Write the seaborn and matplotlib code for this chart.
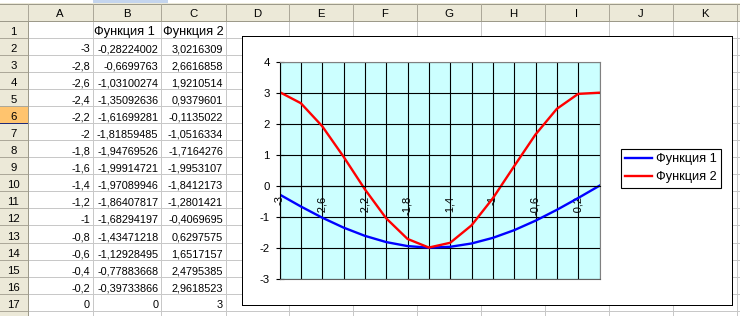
import matplotlib
matplotlib.use("Agg")
import matplotlib.pyplot as plt
import seaborn as sns
import pandas as pd
from matplotlib.patches import Rectangle

# ---------------- data ----------------
x_vals = [-3, -2.8, -2.6, -2.4, -2.2, -2, -1.8, -1.6, -1.4, -1.2, -1, -0.8, -0.6, -0.4, -0.2, 0]
f1_vals = [-0.28224002, -0.6699763, -1.03100274, -1.35092636, -1.61699281, -1.81859485,
           -1.94769526, -1.99914721, -1.97089946, -1.86407817, -1.68294197, -1.43471218,
           -1.12928495, -0.77883668, -0.39733866, 0]
f2_vals = [3.0216309, 2.6616858, 1.9210514, 0.9379601, -0.1135022, -1.0516334, -1.7164276,
           -1.9953107, -1.8412173, -1.2801421, -0.4069695, 0.6297575, 1.6517157, 2.4795385,
           2.9618523, 3]
series_names = ["Функция 1", "Функция 2"]
col_letters = ["A", "B", "C", "D", "E", "F", "G", "H", "I", "J", "K"]
y_ticks = [-3, -2, -1, 0, 1, 2, 3, 4]

def fmt(v):
    return "{:.10g}".format(v).replace(".", ",")

plt.rcParams["font.family"] = ["Liberation Sans", "DejaVu Sans"]

W, H = 740, 316
fig = plt.figure(figsize=(W / 100, H / 100), dpi=100)

# ---------------- spreadsheet background ----------------
bg = fig.add_axes([0, 0, 1, 1])
bg.set_xlim(0, W)
bg.set_ylim(H, 0)
bg.axis("off")

col_edges = [0, 27.5, 92.5, 161, 225.5, 288.5, 352.5, 416.5, 481, 544.5, 608.5, 672.5, 737]
row_top = 20.5
row_h = 17.08
n_rows = 18
row_edges = [row_top + i * row_h for i in range(n_rows + 1)]

header_bg = "#ECE9D8"
sep_col = "#ACA899"
grid_col = "#C8C8C8"
PX = 0.72

def hline(x0, x1, y, c, z=1):
    bg.plot([x0, x1], [y, y], color=c, lw=PX, antialiased=False, zorder=z, solid_capstyle="butt")

def vline(x, y0, y1, c, z=1):
    bg.plot([x, x], [y0, y1], color=c, lw=PX, antialiased=False, zorder=z, solid_capstyle="butt")

bg.add_patch(Rectangle((0, 0), W, H, facecolor="white", edgecolor="none", zorder=0))
bg.add_patch(Rectangle((93, 0), 75, 3, facecolor="#C4D5EE", edgecolor="none", zorder=0))
for xe in col_edges[1:]:
    vline(xe, row_top, H, grid_col)
vline(W - 0.5, row_top, H, grid_col)
for ye in row_edges:
    hline(27, W, ye, grid_col)
bg.add_patch(Rectangle((0, 3), W, row_top - 3, facecolor=header_bg, edgecolor="none", zorder=2))
bg.add_patch(Rectangle((0, row_top), 27.5, H - row_top, facecolor=header_bg, edgecolor="none", zorder=2))
bg.add_patch(Rectangle((0, row_edges[5]), 27.5, row_h, facecolor="#FFC46E", edgecolor="none", zorder=2))
hline(0, W, 3.5, "#9D9A8A", 3)
for xe in col_edges[1:]:
    vline(xe, 3.5, row_top, sep_col, 3)
hline(0, W, row_top, "#9D9A8A", 3)
for ye in row_edges[1:]:
    hline(0, 27.5, ye, sep_col, 3)
hline(0, 27.5, row_edges[6], "#1F2A78", 3)
vline(27.5, row_top, H, "#9D9A8A", 3)

fs_num = 7.8
fs_txt = 9.2
for i, letter in enumerate(col_letters):
    cx = (col_edges[i + 1] + col_edges[i + 2]) / 2
    bg.text(cx, 17.3, letter, ha="center", va="baseline", fontsize=8.2, color="black", zorder=4)
for r in range(n_rows):
    bg.text(13.5, row_edges[r + 1] - 3, str(r + 1), ha="center", va="baseline",
            fontsize=8.2, color="black", zorder=4)

bg.text(94.5, row_edges[1] - 3, series_names[0], ha="left", va="baseline", fontsize=fs_txt, zorder=4)
bg.text(163, row_edges[1] - 3, series_names[1], ha="left", va="baseline", fontsize=fs_txt, zorder=4)
for i in range(len(x_vals)):
    yb = row_edges[i + 2] - 2.5
    bg.text(col_edges[2] - 2.5, yb, fmt(x_vals[i]), ha="right", va="baseline", fontsize=fs_num, zorder=4)
    bg.text(col_edges[3] - 2.5, yb, fmt(f1_vals[i]), ha="right", va="baseline", fontsize=fs_num, zorder=4)
    bg.text(col_edges[4] - 2.5, yb, fmt(f2_vals[i]), ha="right", va="baseline", fontsize=fs_num, zorder=4)

# chart area
bg.add_patch(Rectangle((241.5, 35.5), 490, 269, facecolor="white", edgecolor="none", zorder=5))
hline(241.5, 731.5, 35.5, "black", 6)
hline(241.5, 731.5, 304.5, "black", 6)
vline(241.5, 35.5, 304.5, "black", 6)
vline(731.5, 35.5, 304.5, "black", 6)

# ---------------- chart ----------------
L, R, T, B = 279.5, 599.5, 61.7, 278.7
ax = fig.add_axes([L / W, 1 - B / H, (R - L) / W, (B - T) / H])
ax.set_facecolor("#CCFFFF")
colors = ["#0000FF", "#FF0000"]
for name, vals, c in zip(series_names, [f1_vals, f2_vals], colors):
    df = pd.DataFrame({"x": x_vals, "y": vals})
    sns.lineplot(data=df, x="x", y="y", color=c, lw=1.7, label=name, ax=ax,
                 sort=False, estimator=None)
ax.set_xlim(-3, 0)
ax.set_ylim(-3, 4)
ax.set_xticks(x_vals)
ax.set_xticklabels([fmt(v) if i % 2 == 0 else "" for i, v in enumerate(x_vals)])
ax.set_yticks(y_ticks)
ax.set_yticklabels([str(v) for v in y_ticks])
ax.set_axisbelow(True)
ax.grid(True, color="black", lw=0.8)
ax.set_xlabel("")
ax.set_ylabel("")
for s in ["top", "right"]:
    ax.spines[s].set_color("#808080")
    ax.spines[s].set_linewidth(0.8)
ax.spines["left"].set_color("black")
ax.spines["left"].set_linewidth(0.8)
ax.spines["bottom"].set_position(("data", 0))
ax.spines["bottom"].set_color("black")
ax.spines["bottom"].set_linewidth(0.8)
ax.axhline(-3, color="#606060", lw=0.8, zorder=3, clip_on=False)
ax.tick_params(axis="x", length=0, pad=7, labelrotation=90, labelsize=8)
ax.tick_params(axis="y", direction="inout", length=6, width=0.8, pad=4, labelsize=8.2)

handles, labels = ax.get_legend_handles_labels()
leg = ax.legend(handles, labels, loc="upper left", bbox_to_anchor=(621 / W, 1 - 149 / H),
                bbox_transform=fig.transFigure, borderaxespad=0, fontsize=fs_txt,
                frameon=True, fancybox=False, framealpha=1, edgecolor="black",
                handlelength=2.1, handletextpad=0.25, borderpad=0.35, labelspacing=0.45)
leg.get_frame().set_linewidth(0.8)

fig.savefig("out.png", dpi=100)
